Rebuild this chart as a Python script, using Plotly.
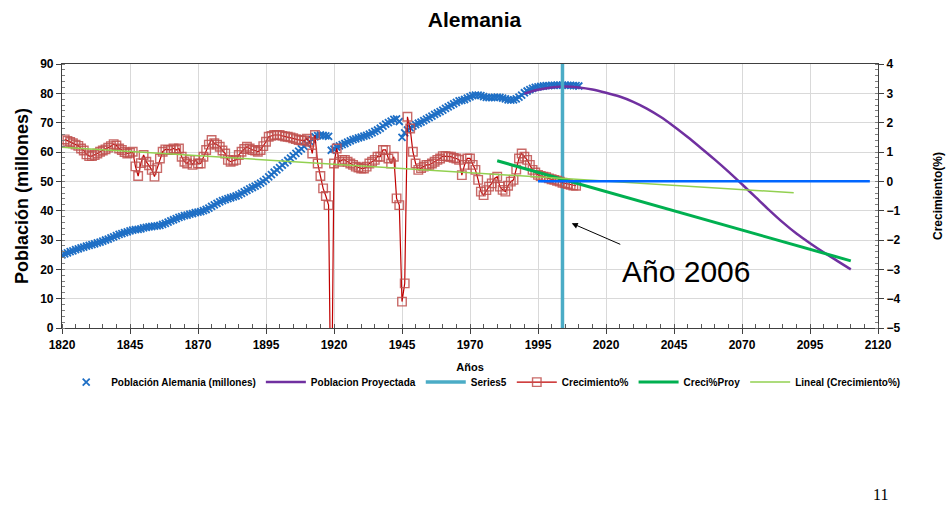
import plotly.graph_objects as go

# ---- Población histórica de Alemania (millones), 1820-2010 ----
pop_years = list(range(1820, 2011))
pop_values = [
    24.9, 25.3, 25.6, 26.0, 26.3, 26.7, 27.0, 27.3, 27.6, 27.9,
    28.2, 28.4, 28.7, 29.0, 29.3, 29.6, 30.0, 30.3, 30.7, 31.1,
    31.5, 31.9, 32.2, 32.5, 32.8, 33.1, 33.4, 33.5, 33.6, 33.8,
    34.1, 34.3, 34.5, 34.6, 34.7, 34.8, 35.0, 35.3, 35.7, 36.1,
    36.5, 36.9, 37.3, 37.7, 38.0, 38.3, 38.5, 38.8, 39.0, 39.3,
    39.5, 39.7, 40.0, 40.4, 40.9, 41.5, 42.0, 42.5, 43.0, 43.4,
    43.8, 44.1, 44.4, 44.7, 45.0, 45.4, 45.9, 46.4, 46.9, 47.4,
    47.9, 48.4, 48.9, 49.4, 50.0, 50.7, 51.5, 52.3, 53.1, 53.9,
    54.7, 55.5, 56.3, 57.1, 57.9, 58.7, 59.5, 60.3, 61.1, 61.9,
    62.8, 63.6, 64.2, 65.2, 65.6, 65.8, 65.7, 65.5, 65.3, 60.6,
    61.0, 61.7, 62.1, 62.5, 62.9, 63.4, 63.8, 64.2, 64.5, 64.8,
    65.1, 65.4, 65.7, 66.1, 66.5, 67.0, 67.5, 68.1, 68.8, 69.5,
    70.0, 70.5, 71.1, 71.3, 70.4, 65.0, 66.5, 67.5, 68.2, 68.8,
    69.3, 69.8, 70.2, 70.7, 71.2, 71.7, 72.2, 72.8, 73.3, 73.8,
    74.3, 74.9, 75.4, 75.9, 76.4, 76.9, 77.4, 77.6, 77.9, 78.4,
    78.8, 79.2, 79.4, 79.4, 79.2, 78.9, 78.6, 78.5, 78.5, 78.6,
    78.7, 78.6, 78.4, 78.1, 77.8, 77.7, 77.8, 78.1, 78.7, 79.4,
    80.2, 80.8, 81.3, 81.7, 82.0, 82.2, 82.4, 82.5, 82.6, 82.6,
    82.7, 82.7, 82.8, 82.8, 82.8, 82.8, 82.7, 82.7, 82.6, 82.6,
    82.5,
]

# ---- Población proyectada (millones) ----
proj_years = [1990, 1995, 2000, 2005, 2010, 2015, 2020, 2025, 2030, 2035,
              2040, 2045, 2050, 2055, 2060, 2065, 2070, 2075, 2080, 2085,
              2090, 2095, 2100, 2105, 2110]
proj_values = [79.9, 81.2, 82.0, 82.3, 82.0, 81.3, 80.2, 78.9, 77.1, 74.8,
               72.0, 68.7, 65.1, 61.3, 57.4, 53.3, 49.0, 44.6, 40.2, 36.0,
               32.2, 28.9, 25.8, 22.9, 20.0]

# ---- Series5: línea vertical del año de referencia ----
s5_years = [2004, 2004]
s5_values = [0, 90]

# ---- Crecimiento anual (%), 1821-2009 ----
growth_years = list(range(1821, 2010))
growth_values = [
    1.43, 1.38, 1.34, 1.30, 1.25, 1.21, 1.12, 1.05, 0.92, 0.86,
    0.86, 0.90, 0.95, 1.01, 1.05, 1.09, 1.15, 1.20, 1.27, 1.22,
    1.12, 1.07, 1.00, 0.95, 0.97, 1.01, 0.51, 0.18, 0.62, 0.90,
    0.67, 0.55, 0.39, 0.16, 0.45, 0.78, 1.01, 1.09, 1.07, 1.07,
    1.12, 1.07, 1.12, 0.84, 0.67, 0.61, 0.73, 0.56, 0.73, 0.61,
    0.61, 0.84, 1.07, 1.25, 1.41, 1.30, 1.25, 1.18, 1.05, 0.95,
    0.73, 0.67, 0.70, 0.73, 0.90, 1.01, 1.10, 1.18, 1.12, 1.07,
    1.05, 1.01, 1.07, 1.20, 1.35, 1.52, 1.55, 1.58, 1.58, 1.58,
    1.55, 1.53, 1.52, 1.50, 1.47, 1.44, 1.41, 1.40, 1.39, 1.45,
    1.35, 0.95, 1.58, 0.61, 0.18, -0.24, -0.50, -0.81, -9.00, 0.61,
    1.12, 0.67, 0.73, 0.73, 0.67, 0.61, 0.56, 0.50, 0.47, 0.44,
    0.44, 0.50, 0.61, 0.67, 0.73, 0.84, 0.84, 1.07, 1.07, 0.78,
    0.61, 0.84, -0.58, -0.81, -4.10, -3.48, 2.20, 1.80, 1.01, 0.61,
    0.39, 0.45, 0.50, 0.56, 0.56, 0.61, 0.67, 0.73, 0.78, 0.86,
    0.86, 0.84, 0.84, 0.80, 0.78, 0.73, 0.21, 0.56, 0.78, 0.78,
    0.56, 0.39, 0.05, -0.35, -0.47, -0.30, -0.18, -0.07, 0.10, 0.16,
    -0.18, -0.29, -0.35, -0.15, -0.01, 0.05, 0.40, 0.78, 0.95, 0.84,
    0.73, 0.56, 0.39, 0.30, 0.22, 0.18, 0.16, 0.14, 0.10, 0.07,
    0.05, 0.02, -0.01, -0.05, -0.07, -0.09, -0.12, -0.14, -0.15,
]

# ---- Crecimiento proyectado (%) ----
cproy_years = [1980, 2110]
cproy_values = [0.70, -2.71]

# ---- Tendencia lineal del crecimiento (%) ----
trend_years = [1820, 2089]
trend_values = [1.16, -0.39]

# ---- Referencia de crecimiento cero ----
zero_years = [1995, 2117]
zero_values = [0, 0]

FONT = "Liberation Sans"

# Área de trazado en píxeles (para situar textos en coordenadas de papel)
PLOT_L, PLOT_R, PLOT_T, PLOT_B = 62, 878, 64, 328

fig = go.Figure()

fig.add_trace(go.Scatter(
    x=pop_years, y=pop_values, mode="markers",
    name="Población Alemania (millones)",
    marker=dict(symbol="x-thin", size=7, color="#1F6FC5",
                line=dict(color="#1F6FC5", width=1.8)),
    yaxis="y",
))
fig.add_trace(go.Scatter(
    x=proj_years, y=proj_values, mode="lines",
    line_shape="spline", line_smoothing=0.8,
    name="Poblacion Proyectada",
    line=dict(color="#7030A0", width=2.5),
    yaxis="y",
))
fig.add_trace(go.Scatter(
    x=s5_years, y=s5_values, mode="lines",
    name="Series5",
    line=dict(color="#4BACC6", width=3.5),
    yaxis="y",
))
fig.add_trace(go.Scatter(
    x=growth_years, y=growth_values, mode="lines+markers",
    name="Crecimiento%",
    line=dict(color="#C00000", width=1.2),
    marker=dict(symbol="square-open", size=8.5, color="rgba(192,80,77,0.85)",
                line=dict(color="rgba(192,80,77,0.85)", width=1.4)),
    yaxis="y2",
))
fig.add_trace(go.Scatter(
    x=cproy_years, y=cproy_values, mode="lines",
    name="Creci%Proy",
    line=dict(color="#00B050", width=3),
    yaxis="y2",
))
fig.add_trace(go.Scatter(
    x=trend_years, y=trend_values, mode="lines",
    name="Lineal (Crecimiento%)",
    line=dict(color="#92D050", width=1.5),
    yaxis="y2",
))
fig.add_trace(go.Scatter(
    x=zero_years, y=zero_values, mode="lines",
    showlegend=False, hoverinfo="skip",
    line=dict(color="#0066FF", width=2.5),
    yaxis="y2",
))

tickfont = dict(family=FONT, size=12, color="#000000", weight="bold")

fig.update_layout(
    width=949, height=513,
    margin=dict(l=PLOT_L, r=949 - PLOT_R, t=PLOT_T, b=513 - PLOT_B),
    paper_bgcolor="white", plot_bgcolor="white",
    font=dict(family=FONT, color="#000000"),
    title=dict(text="Alemania", x=0.5, xanchor="center", y=1 - 20 / 513,
               yanchor="middle",
               font=dict(family=FONT, size=21, weight="bold", color="#000000")),
    xaxis=dict(
        range=[1820, 2120], tick0=1820, dtick=25, automargin=False,
        showgrid=True, gridcolor="#D9D9D9", gridwidth=1,
        showline=True, linecolor="#404040", linewidth=1.2, mirror=True,
        ticks="outside", ticklen=5, tickcolor="#404040",
        minor=dict(dtick=5, ticks="inside", ticklen=4, tickcolor="#595959",
                   showgrid=False),
        tickfont=tickfont, zeroline=False,
        title=dict(text="Años", standoff=12,
                   font=dict(family=FONT, size=11, weight="bold")),
    ),
    yaxis=dict(
        range=[0, 90], dtick=10, automargin=False,
        showgrid=True, gridcolor="#D9D9D9", gridwidth=1,
        showline=True, linecolor="#404040", linewidth=1.2,
        ticks="outside", ticklen=5, tickcolor="#404040",
        minor=dict(dtick=2, ticks="inside", ticklen=3, tickcolor="#808080",
                   showgrid=False),
        tickfont=tickfont, zeroline=False,
        title=dict(text="Población (millones)", standoff=6,
                   font=dict(family=FONT, size=18, weight="bold")),
    ),
    yaxis2=dict(
        range=[-5, 4], dtick=1, overlaying="y", side="right", automargin=False,
        showgrid=False,
        showline=True, linecolor="#404040", linewidth=1.2,
        ticks="outside", ticklen=5, tickcolor="#404040",
        minor=dict(dtick=0.2, ticks="inside", ticklen=3, tickcolor="#808080"),
        tickfont=tickfont, zeroline=False,
        title=dict(text="Crecimiento(%)", standoff=34,
                   font=dict(family=FONT, size=12, weight="bold")),
    ),
    legend=dict(
        orientation="h", x=-0.001, xanchor="left", y=-0.205, yanchor="middle",
        font=dict(family=FONT, size=10, weight="bold", color="#000000"),
        itemwidth=40, tracegroupgap=0, bgcolor="rgba(0,0,0,0)",
    ),
    showlegend=True,
)

# Texto y flecha que señalan el año de referencia
fig.add_annotation(
    x=2049.4, y=19.1, xref="x", yref="y", text="Año 2006", showarrow=False,
    font=dict(family=FONT, size=30, color="#000000"),
)
fig.add_annotation(
    x=2007.4, y=35.7, xref="x", yref="y", ax=2025.8, ay=28.3,
    axref="x", ayref="y", text="", showarrow=True,
    arrowhead=2, arrowsize=1.2, arrowwidth=1, arrowcolor="#000000",
)

# Número de página
fig.add_annotation(
    x=(880 - PLOT_L) / (PLOT_R - PLOT_L),
    y=(PLOT_B - 494) / (PLOT_B - PLOT_T),
    xref="paper", yref="paper",
    text="11", showarrow=False, xanchor="center", yanchor="middle",
    font=dict(family="Liberation Serif", size=16, color="#000000"),
)

fig.write_html("out.html")
